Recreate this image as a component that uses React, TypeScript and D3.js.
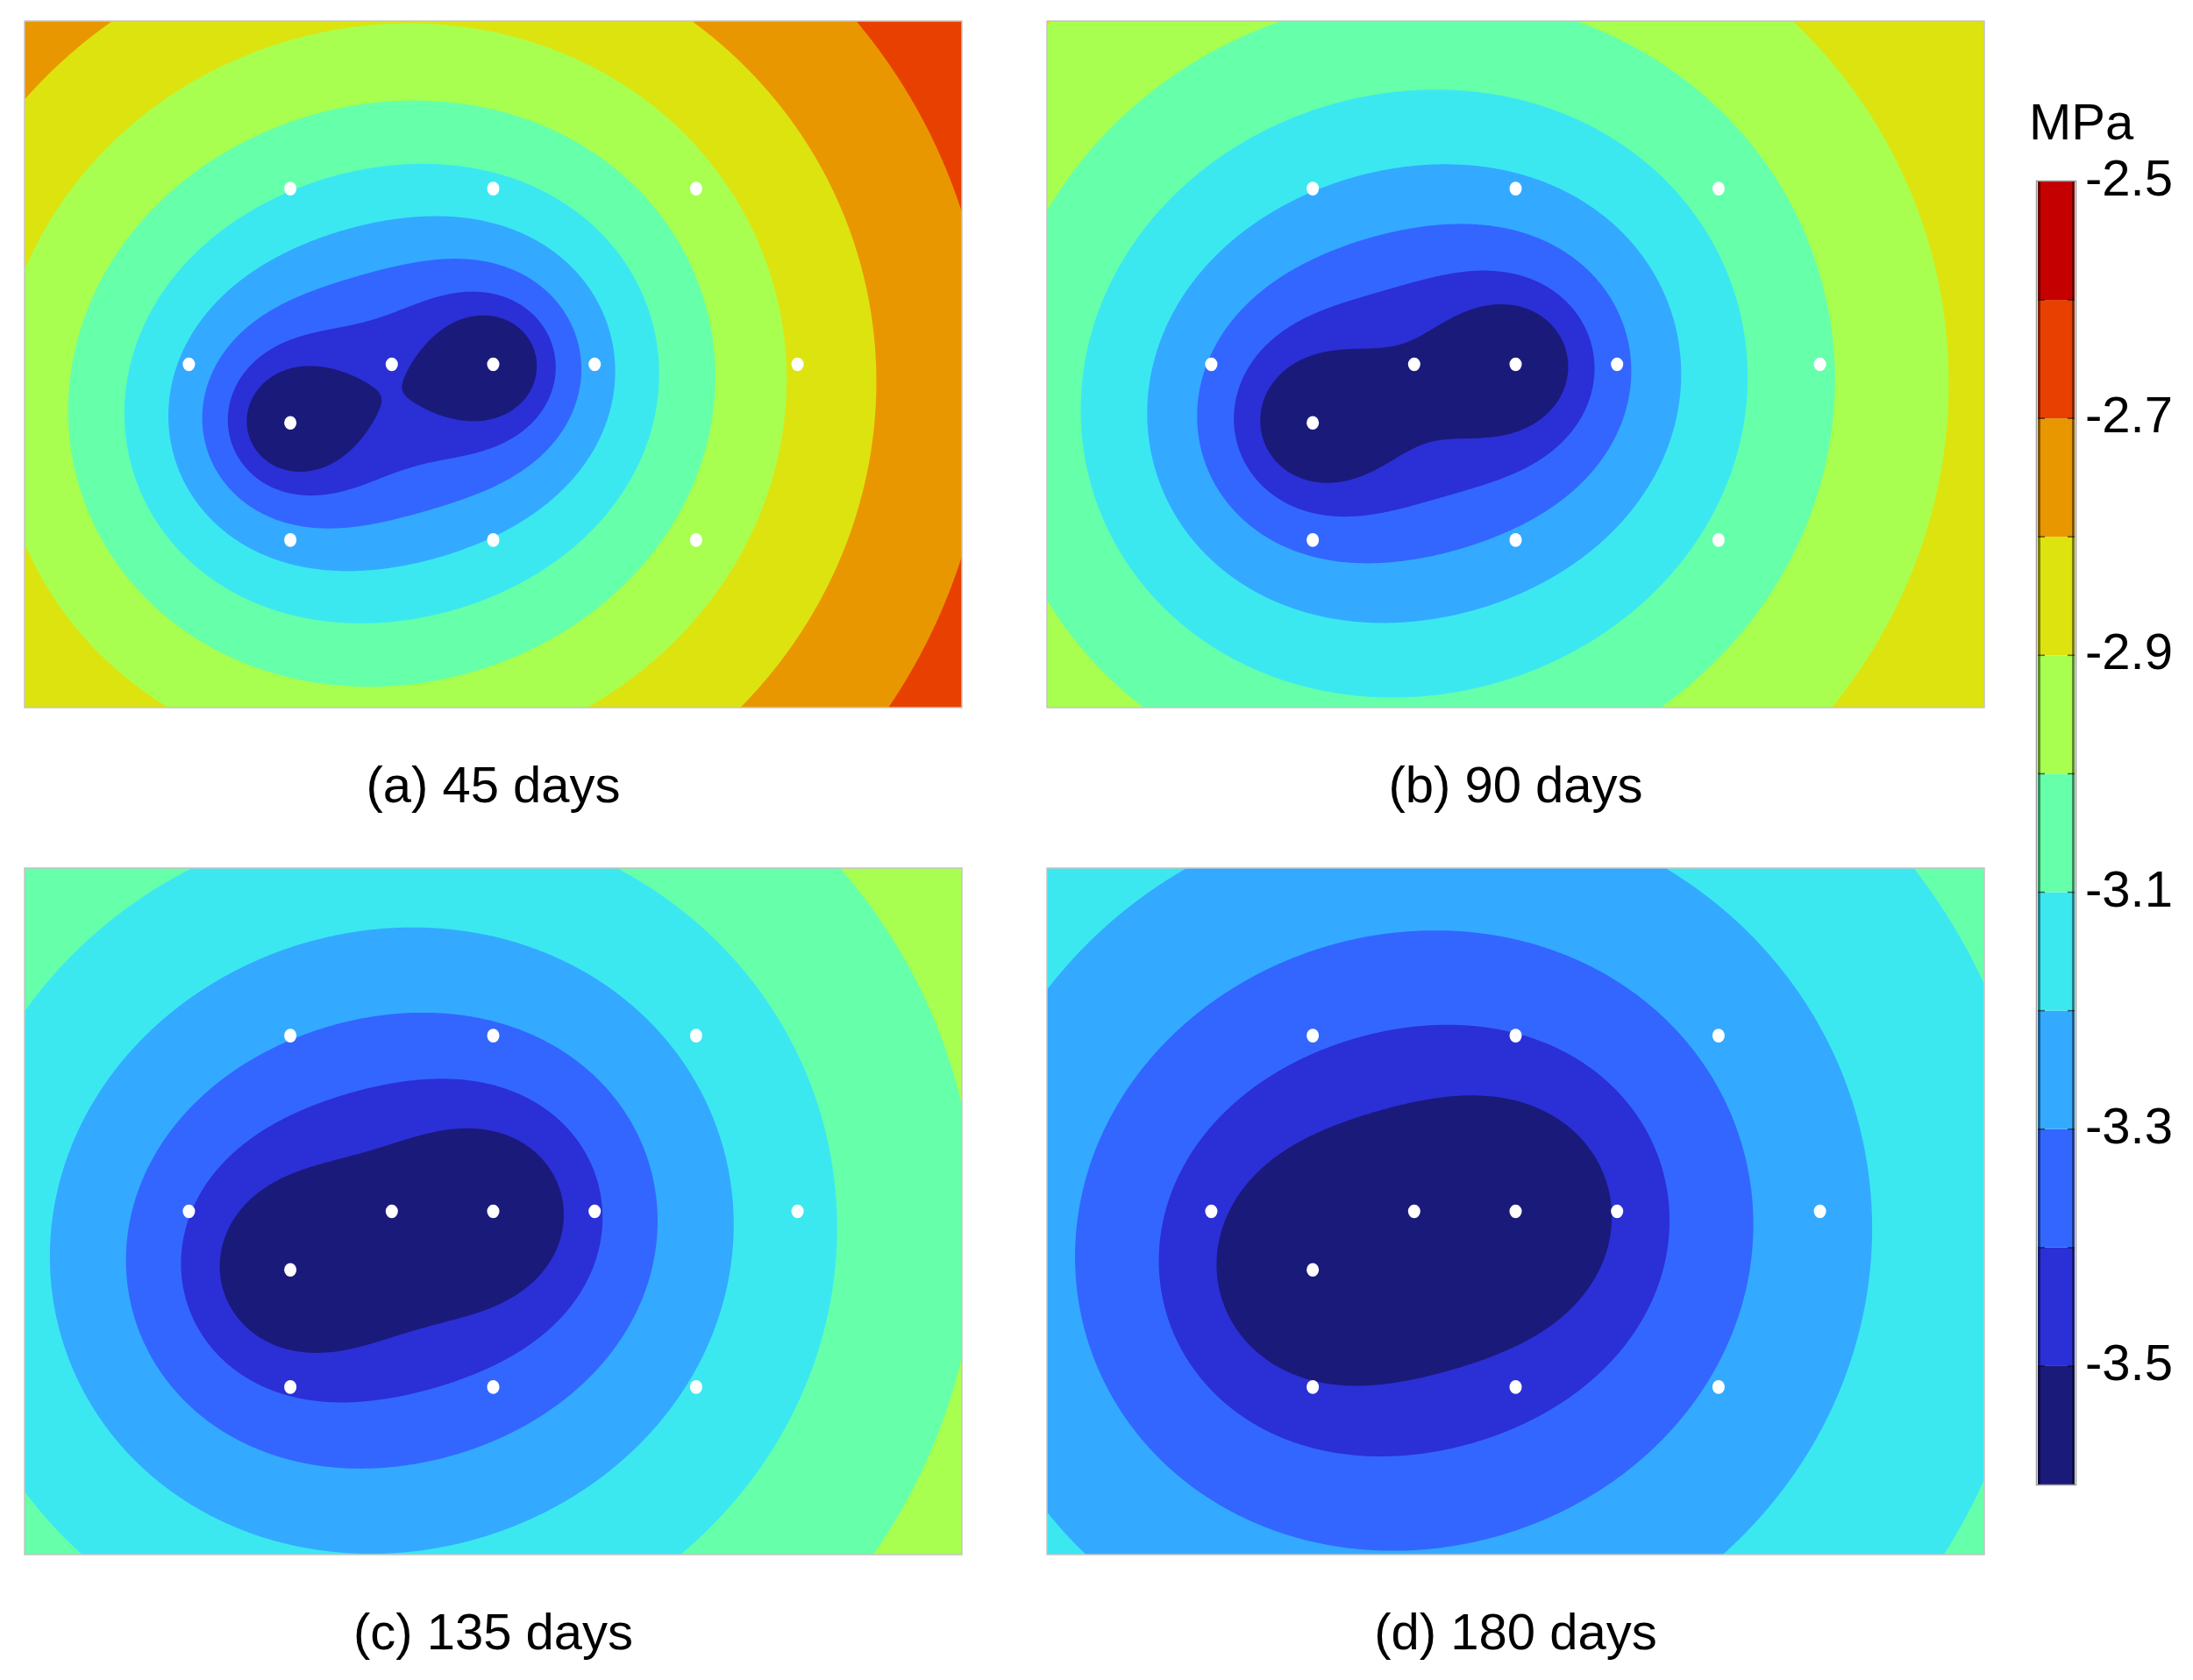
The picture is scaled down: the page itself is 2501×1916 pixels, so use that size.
import React, { useMemo } from 'react';
import * as d3 from 'd3';

// monitoring wells (m), same layout in every panel
const wellX = [-2, 0, 2, -3, -1, 0, 1, 3, -2, -2, 0, 2];
const wellY = [1.732, 1.732, 1.732, 0, 0, 0, 0, 0, -0.577, -1.732, -1.732, -1.732];

// the two wells that draw the pressure down
const sinkX = [-2, 0];
const sinkY = [-0.577, 0];

const panelLabels = ['(a) 45 days', '(b) 90 days', '(c) 135 days', '(d) 180 days'];
const basePressure = [-3.516, -3.558, -3.615, -3.663];
const logSlope = [0.232, 0.2, 0.177, 0.156];

const levels = [-3.5, -3.4, -3.3, -3.2, -3.1, -3.0, -2.9, -2.8, -2.7, -2.6];
const bandColors = [
  '#1a1a7a', '#2b2fd6', '#3366ff', '#33aaff', '#3ce8f0', '#66ffaa',
  '#a8ff50', '#dde30f', '#e99700', '#e84000', '#c40000',
];
const colorbarTicks = [-2.5, -2.7, -2.9, -3.1, -3.3, -3.5];
const cbMin = -3.6;
const cbMax = -2.5;

const xDomain = [-4.62, 4.62];
const yDomain = [-3.384, 3.384];

const PW = 1069;
const PH = 783;
const origins = [[28, 24], [1194, 24], [28, 990], [1194, 990]];
const FONT = 'Liberation Sans, Arial, Helvetica, sans-serif';

function Panel({ idx }) {
  const [x0, y0] = origins[idx];
  const xs = d3.scaleLinear().domain(xDomain).range([0, PW]);
  const ys = d3.scaleLinear().domain(yDomain).range([PH, 0]);

  const paths = useMemo(() => {
    const cell = 2;
    const nx = Math.ceil(PW / cell);
    const ny = Math.ceil(PH / cell);
    const values = new Float64Array(nx * ny);
    for (let j = 0; j < ny; j++) {
      const uy = ys.invert((j + 0.5) * cell);
      for (let i = 0; i < nx; i++) {
        const ux = xs.invert((i + 0.5) * cell);
        let s = 0;
        for (let k = 0; k < sinkX.length; k++) {
          const r = Math.hypot(ux - sinkX[k], uy - sinkY[k]);
          s += Math.log(Math.max(r, 1e-3));
        }
        values[j * nx + i] = basePressure[idx] + logSlope[idx] * s;
      }
    }
    const cs = d3.contours().size([nx, ny]).thresholds(levels)(values);
    const path = d3.geoPath(
      d3.geoTransform({
        point: function (x, y) {
          this.stream.point(x * cell, y * cell);
        },
      })
    );
    return cs.map((c) => path(c));
  }, [idx]);

  const clipId = `clip-${idx}`;
  return (
    <g transform={`translate(${x0},${y0})`}>
      <defs>
        <clipPath id={clipId}>
          <rect x={0} y={0} width={PW} height={PH} />
        </clipPath>
      </defs>
      <g clipPath={`url(#${clipId})`}>
        <rect x={0} y={0} width={PW} height={PH} fill={bandColors[0]} />
        {paths.map((d, i) => (
          <path key={i} d={d || ''} fill={bandColors[i + 1]} />
        ))}
        {wellX.map((wx, i) => (
          <ellipse key={i} cx={xs(wx)} cy={ys(wellY[i])} rx={7} ry={7.8} fill="#ffffff" />
        ))}
      </g>
      <rect x={0} y={0} width={PW} height={PH} fill="none" stroke="#c4c4c4" strokeWidth={1.5} />
      <text
        x={PW / 2}
        y={PH + 108}
        textAnchor="middle"
        fontFamily={FONT}
        fontSize={58}
        fill="#000"
      >
        {panelLabels[idx]}
      </text>
    </g>
  );
}

function ColorBar() {
  const left = 2324;
  const right = 2366;
  const cb = d3.scaleLinear().domain([cbMin, cbMax]).range([1693, 207]);
  const lowers = [cbMin, ...levels];
  const uppers = [...levels, cbMax];
  return (
    <g>
      {bandColors.map((c, i) => (
        <rect
          key={i}
          x={left}
          y={cb(uppers[i])}
          width={right - left}
          height={cb(lowers[i]) - cb(uppers[i])}
          fill={c}
        />
      ))}
      <rect x={left} y={cb(cbMax)} width={3} height={cb(cbMin) - cb(cbMax)} fill="#000" opacity={0.45} />
      <rect x={right - 3} y={cb(cbMax)} width={3} height={cb(cbMin) - cb(cbMax)} fill="#000" opacity={0.45} />
      {levels.map((l, i) => (
        <g key={i} stroke="#000" strokeOpacity={0.6} strokeWidth={1.5}>
          <line x1={left} x2={left + 8} y1={cb(l)} y2={cb(l)} />
          <line x1={right - 8} x2={right} y1={cb(l)} y2={cb(l)} />
        </g>
      ))}
      <rect
        x={left - 1.5}
        y={cb(cbMax) - 0.5}
        width={right - left + 3}
        height={cb(cbMin) - cb(cbMax) + 1}
        fill="none"
        stroke="#999"
        strokeWidth={1.5}
      />
      {colorbarTicks.map((t) => (
        <text key={t} x={2378} y={cb(t) + 16} fontFamily={FONT} fontSize={58} fill="#000">
          {t.toFixed(1)}
        </text>
      ))}
      <text x={2314} y={159} fontFamily={FONT} fontSize={58} fill="#000">
        MPa
      </text>
    </g>
  );
}

export default function App() {
  return (
    <div style={{ position: 'absolute', left: 0, top: 0 }}>
      <svg width={2501} height={1916} viewBox="0 0 2501 1916" style={{ display: 'block', background: '#fff' }}>
        {[0, 1, 2, 3].map((i) => (
          <Panel key={i} idx={i} />
        ))}
        <ColorBar />
      </svg>
    </div>
  );
}
